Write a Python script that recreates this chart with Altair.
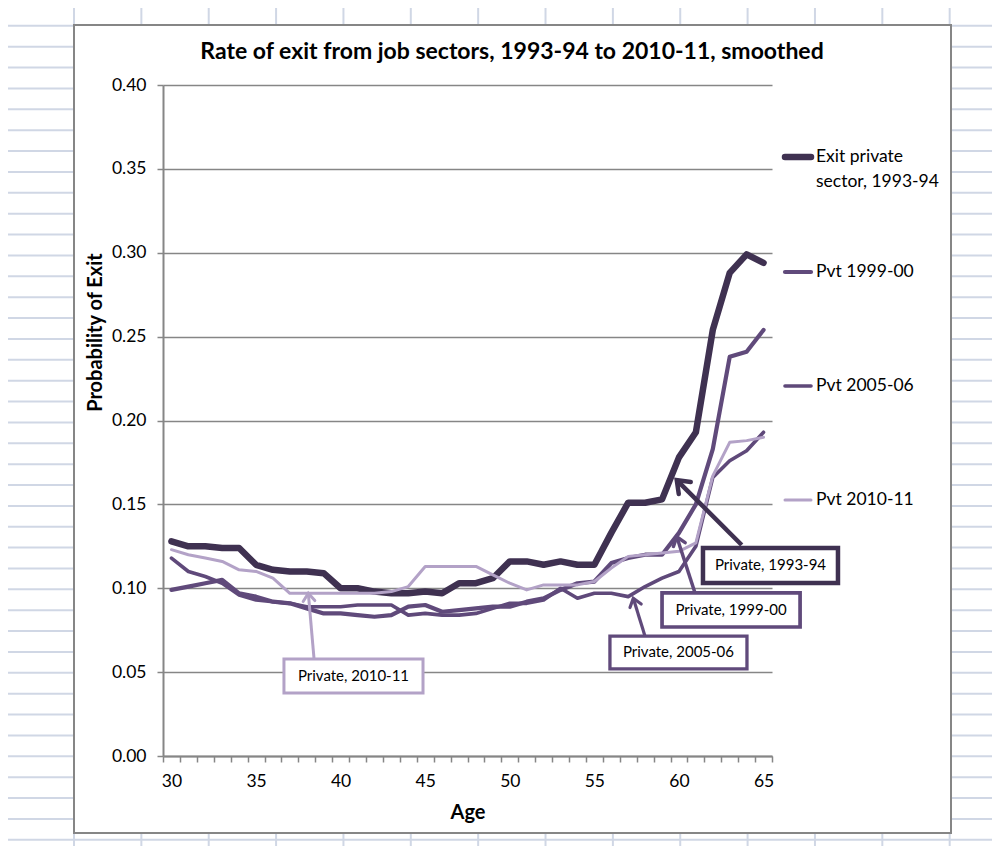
import math
import altair as alt
import pandas as pd

# ---------------- data ----------------
ages = list(range(30, 66))
series_labels = ["Exit private sector, 1993-94", "Pvt 1999-00", "Pvt 2005-06", "Pvt 2010-11"]
exit_1993_94 = [0.128, 0.125, 0.125, 0.124, 0.124, 0.114, 0.111, 0.110, 0.110, 0.109,
                0.100, 0.100, 0.098, 0.097, 0.097, 0.098, 0.097, 0.103, 0.103, 0.106,
                0.116, 0.116, 0.114, 0.116, 0.114, 0.114, 0.133, 0.151, 0.151, 0.153,
                0.178, 0.193, 0.254, 0.288, 0.299, 0.294]
exit_1999_00 = [0.099, 0.101, 0.103, 0.105, 0.097, 0.095, 0.092, 0.091, 0.088, 0.085,
                0.085, 0.084, 0.083, 0.084, 0.089, 0.090, 0.086, 0.087, 0.088, 0.089,
                0.089, 0.092, 0.094, 0.099, 0.103, 0.104, 0.115, 0.118, 0.120, 0.120,
                0.133, 0.150, 0.183, 0.238, 0.241, 0.254]
exit_2005_06 = [0.118, 0.110, 0.107, 0.103, 0.096, 0.093, 0.092, 0.091, 0.089, 0.089,
                0.089, 0.090, 0.090, 0.090, 0.084, 0.085, 0.084, 0.084, 0.085, 0.088,
                0.091, 0.091, 0.093, 0.100, 0.094, 0.097, 0.097, 0.095, 0.101, 0.106,
                0.110, 0.125, 0.166, 0.176, 0.182, 0.193]
exit_2010_11 = [0.123, 0.120, 0.118, 0.116, 0.111, 0.110, 0.106, 0.097, 0.097, 0.097,
                0.097, 0.097, 0.097, 0.098, 0.101, 0.113, 0.113, 0.113, 0.113, 0.108,
                0.103, 0.099, 0.102, 0.102, 0.102, 0.104, 0.112, 0.119, 0.120, 0.121,
                0.122, 0.127, 0.167, 0.187, 0.188, 0.190]
y_ticks = [0.00, 0.05, 0.10, 0.15, 0.20, 0.25, 0.30, 0.35, 0.40]
x_label_ages = [30, 35, 40, 45, 50, 55, 60, 65]
chart_title = "Rate of exit from job sectors, 1993-94 to 2010-11, smoothed"
x_title = "Age"
y_title = "Probability of Exit"
legend_lines = [["Exit private", "sector, 1993-94"], ["Pvt 1999-00"], ["Pvt 2005-06"], ["Pvt 2010-11"]]
annotation_labels = ["Private, 1993-94", "Private, 1999-00", "Private, 2005-06", "Private, 2010-11"]

all_series = [exit_1993_94, exit_1999_00, exit_2005_06, exit_2010_11]

# ---------------- styling / layout ----------------
FONT = "Lato"
colors = ["#3f3151", "#604a7b", "#5f497a", "#b3a2c7"]
widths = [6.5, 4.2, 3.6, 3.0]
AXIS_GRAY = "#868686"
SHEET_GRID = "#d0d7e5"

W, H = 609, 671          # plot area
OX, OY = 163, 85         # page position of the plot origin
PX_AGE = W / 36.0
PX_P = H / 0.4


def A(px):   # page x -> age units
    return 29.5 + (px - OX) / PX_AGE


def P(py):   # page y -> probability units
    return (OY + H - py) / PX_P


# annotation layout in data units (age, probability)
ann_layout = [
    dict(box=(61.42, 69.40, 0.1240, 0.1031), txt=(65.41, 0.1136), start=(63.71, 0.1258), tip=(59.87, 0.1645), bw=4.5, aw=4.5, hs=800),
    dict(box=(59.00, 67.16, 0.0972, 0.0769), txt=(63.08, 0.0870), start=(60.95, 0.0972), tip=(59.87, 0.1307), bw=3.7, aw=3.5, hs=420),
    dict(box=(55.92, 64.02, 0.0715, 0.0519), txt=(59.97, 0.0617), start=(57.99, 0.0715), tip=(57.30, 0.0940), bw=3.3, aw=3.2, hs=380),
    dict(box=(36.65, 44.87, 0.0578, 0.0376), txt=(40.76, 0.0477), start=(38.43, 0.0578), tip=(38.09, 0.0970), bw=3.0, aw=3.0, hs=380),
]
ann_colors = ["#3f3151", "#604a7b", "#604a7b", "#b3a2c7"]
ARROW_PATH = "M -0.6 0.8 L 0 0 L 0.6 0.8"

xscale = alt.Scale(domain=[29.5, 65.5], nice=False, zero=False)
yscale = alt.Scale(domain=[0, 0.4], nice=False, zero=False)

label_list = ",".join(str(a) for a in x_label_ages)
xaxis = alt.Axis(
    values=[29.5 + i for i in range(37)],
    labelExpr=f"indexof([{label_list}], datum.value + 0.5) >= 0 ? format(datum.value + 0.5, 'd') : ''",
    labelOffset=PX_AGE / 2, labelFlush=False, labelOverlap=False, grid=False,
    tickSize=6, tickColor=AXIS_GRAY, tickWidth=1.5,
    domainColor=AXIS_GRAY, domainWidth=2,
    labelFontSize=17.5, labelColor="black", labelPadding=19, labelBaseline="middle",
    title=x_title, titleFontSize=20, titleFontWeight="bold", titleColor="black",
    titleX=W / 2, titleY=56, titleBaseline="middle", titleAlign="center",
)
yaxis = alt.Axis(
    values=y_ticks, format=".2f", grid=True, gridColor=AXIS_GRAY, gridWidth=1.5,
    tickSize=6, tickColor=AXIS_GRAY, tickWidth=1.5,
    domainColor=AXIS_GRAY, domainWidth=2,
    labelFontSize=17.5, labelColor="black", labelPadding=11,
    title=y_title, titleFontSize=20, titleFontWeight="bold", titleColor="black",
    titleX=-68, titleY=247, titleAngle=270, titleAlign="center", titleBaseline="middle",
)


def X(f):
    return alt.X(f"{f}:Q", scale=xscale, axis=xaxis)


def Y(f):
    return alt.Y(f"{f}:Q", scale=yscale, axis=yaxis)


layers = []

# spreadsheet grid around the chart object, and the chart object's border
box = (74, 25, 951, 833)
vx = [74 + 67.36 * k for k in range(-1, 15)]
hy = [5 + 20.87 * k for k in range(0, 42)]
segs = []
for x in vx:
    if box[0] < x < box[2]:
        segs += [(x, 0, x, box[1]), (x, box[3], x, 860)]
    else:
        segs.append((x, 0, x, 860))
for y in hy:
    if box[1] < y < box[3]:
        segs += [(0, y, box[0], y), (box[2], y, 1005, y)]
    else:
        segs.append((0, y, 1005, y))
border_segs = [(box[0], box[1], box[2], box[1]), (box[0], box[3], box[2], box[3]),
               (box[0], box[1], box[0], box[3]), (box[2], box[1], box[2], box[3])]
for sl, col in ((segs, SHEET_GRID), (border_segs, AXIS_GRAY)):
    gdf = pd.DataFrame([{"gx": A(a), "gy": P(b), "gx2": A(c), "gy2": P(d)} for a, b, c, d in sl])
    layers.append(
        alt.Chart(gdf).mark_rule(color=col, strokeWidth=2, strokeCap="square").encode(
            x=X("gx"), x2="gx2:Q", y=Y("gy"), y2="gy2:Q",
        )
    )

# series lines
for i, (lab, vals) in enumerate(zip(series_labels, all_series)):
    d = pd.DataFrame({"age": ages, "p": vals, "series": lab})
    layers.append(
        alt.Chart(d).mark_line(color=colors[i], strokeWidth=widths[i], strokeCap="round", strokeJoin="round").encode(
            x=X("age"), y=Y("p"),
        )
    )

# title
tdf = pd.DataFrame({"tx": [A(512)], "ty": [P(52)], "t": [chart_title]})
layers.append(
    alt.Chart(tdf).mark_text(fontSize=23, fontWeight="bold", align="center",
                             baseline="middle", color="black").encode(
        x=X("tx"), y=Y("ty"), text="t:N"
    )
)

# annotations
for i, (lab, lay) in enumerate(zip(annotation_labels, ann_layout)):
    a1, a2, p1, p2 = lay["box"]
    ta, tp = lay["txt"]
    sa, sp = lay["start"]
    ea, ep = lay["tip"]
    d = pd.DataFrame({"a1": [a1], "a2": [a2], "p1": [p1], "p2": [p2], "ta": [ta], "tp": [tp],
                      "sa": [sa], "sp": [sp], "ea": [ea], "ep": [ep], "label": [lab]})
    dx = (ea - sa) * PX_AGE
    dy = -(ep - sp) * PX_P
    ang = math.degrees(math.atan2(dx, -dy)) % 360
    c = ann_colors[i]
    layers.append(
        alt.Chart(d).mark_rule(color=c, strokeWidth=lay["aw"]).encode(
            x=X("sa"), x2="ea:Q", y=Y("sp"), y2="ep:Q",
        )
    )
    layers.append(
        alt.Chart(d).mark_point(shape=ARROW_PATH, filled=False, size=lay["hs"], strokeWidth=lay["aw"],
                                color=c, opacity=1, angle=ang, strokeCap="round", strokeJoin="miter").encode(
            x=X("ea"), y=Y("ep"),
        )
    )
    layers.append(
        alt.Chart(d).mark_rect(fill="white", stroke=c, strokeWidth=lay["bw"]).encode(
            x=X("a1"), x2="a2:Q", y=Y("p1"), y2="p2:Q",
        )
    )
    layers.append(
        alt.Chart(d).mark_text(fontSize=15, color="black", align="center", baseline="middle").encode(
            x=X("ta"), y=Y("tp"), text="label:N",
        )
    )

# manual legend at the right (page positions converted to data units)
legend_py = [157, 272, 386, 500]
for i, lines in enumerate(legend_lines):
    ld = pd.DataFrame({"lx": [A(785)], "lx2": [A(811)], "ly": [P(legend_py[i])]})
    layers.append(
        alt.Chart(ld).mark_rule(color=colors[i], strokeWidth=widths[i], strokeCap="round").encode(
            x=X("lx"), x2="lx2:Q", y=Y("ly")
        )
    )
    td = pd.DataFrame({"tx": [A(816)] * len(lines),
                       "ty": [P(legend_py[i] + 25 * j) for j in range(len(lines))],
                       "t": lines})
    layers.append(
        alt.Chart(td).mark_text(fontSize=17.5, color="black", align="left", baseline="middle").encode(
            x=X("tx"), y=Y("ty"), text="t:N"
        )
    )

chart = alt.layer(*layers).properties(
    width=W, height=H,
    autosize=alt.AutoSizeParams(type="none"),
    padding={"left": OX - 8, "top": OY - 8, "right": 220, "bottom": 90},
).configure(font=FONT).configure_view(stroke=None)

chart.save("out.html", embed_options={"renderer": "svg", "actions": False})
